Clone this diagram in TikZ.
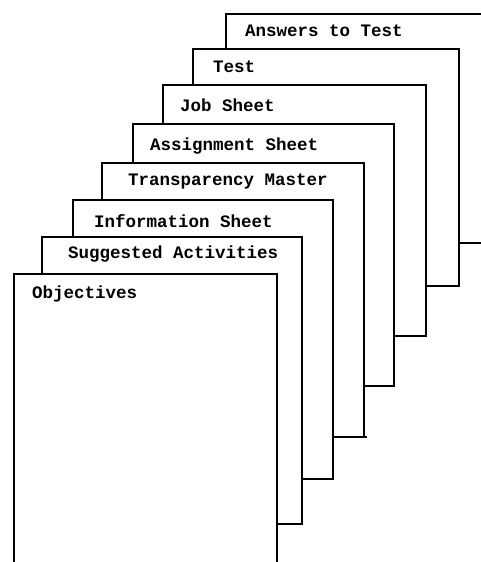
\documentclass[tikz,border=0pt]{standalone}
\usepackage{fontspec}
\setmonofont{Liberation Mono}
\usetikzlibrary{positioning}
\tikzset{page/.style={draw=black,fill=white,line width=1.3pt}}
\tikzset{ledge/.style={line width=2.3pt}}
\tikzset{tab/.style={anchor=base west,inner sep=0pt,font=\ttfamily\bfseries\fontsize{17.5}{20}\selectfont}}

\begin{document}
\begin{tikzpicture}[x=1pt,y=-1pt]
\useasboundingbox (0,0) rectangle (481,562);
\clip (0,0) rectangle (481,562);
% back to front
\filldraw[page] (226,14) rectangle (495,243);
\draw[ledge] (226,14) -- (495,14);
\node (answers) [tab] at (245,36) {Answers to Test};
\filldraw[page] (193,49) rectangle (459,286);
\draw[ledge] (193,49) -- (459,49);
\draw[ledge] (426,286) -- (459,286);
\node (test) [tab] at (213,72) {Test};
\filldraw[page] (163,85) rectangle (426,336);
\draw[ledge] (163,85) -- (426,85);
\draw[ledge] (394,336) -- (426,336);
\node (job) [tab] at (180,111) {Job Sheet};
\filldraw[page] (133,124) rectangle (394,386);
\draw[ledge] (133,124) -- (394,124);
\draw[ledge] (362,386) -- (394,386);
\node (assign) [tab] at (150,150) {Assignment Sheet};
\filldraw[page] (102,163) rectangle (364,437);
\draw[ledge] (102,163) -- (364,163);
\draw[ledge] (333,437) -- (367,437);
\node (transp) [tab] at (128,185) {Transparency Master};
\filldraw[page] (73,200) rectangle (333,479);
\draw[ledge] (73,200) -- (333,200);
\draw[ledge] (302,479) -- (333,479);
\node (info) [tab] at (94,227) {Information Sheet};
\filldraw[page] (42,237) rectangle (302,524);
\draw[ledge] (42,237) -- (302,237);
\draw[ledge] (277,524) -- (302,524);
\node (sugg) [tab] at (68,258) {Suggested Activities};
\filldraw[page] (14,274) rectangle (277,580);
\draw[ledge] (14,274) -- (277,274);
\node (obj) [tab] at (32,298) {Objectives};
\end{tikzpicture}
\end{document}
